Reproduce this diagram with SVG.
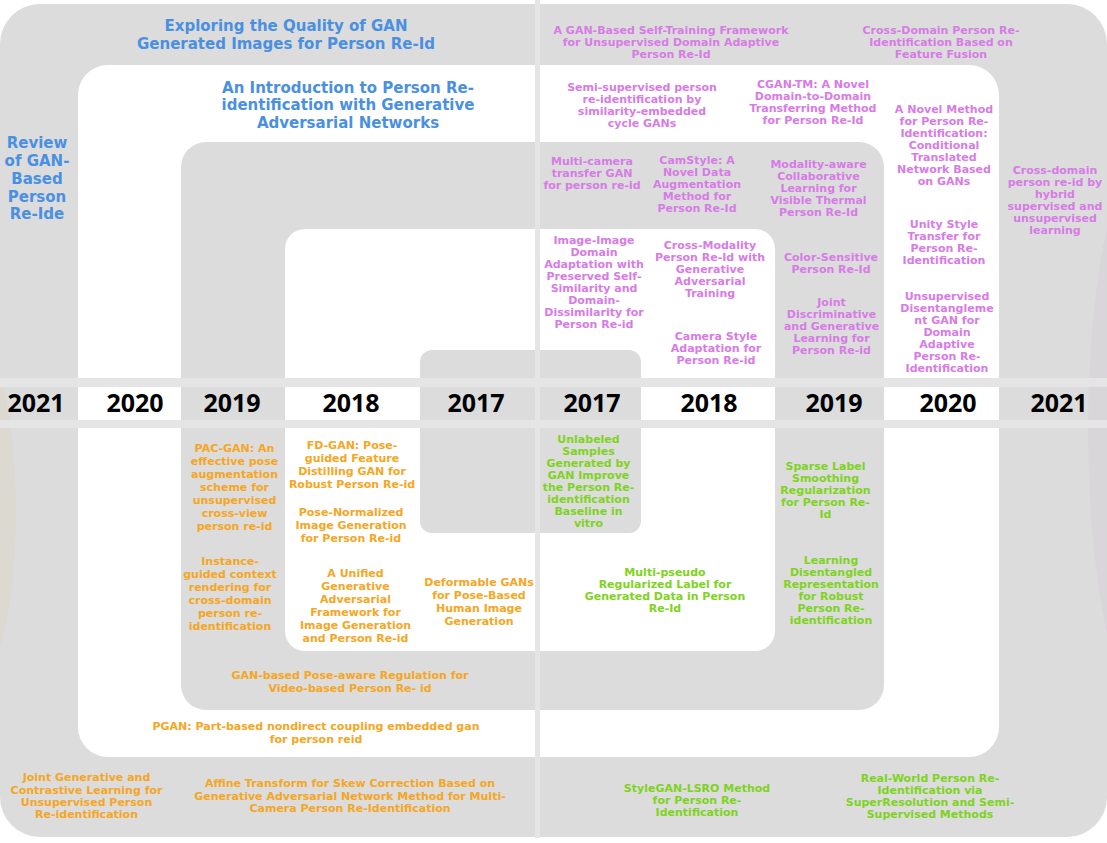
<svg xmlns="http://www.w3.org/2000/svg" width="1107" height="843" viewBox="0 0 1107 843">
  <style>
    .t { font-family: "DejaVu Sans", "Liberation Sans", sans-serif; font-weight: 700; text-anchor: middle; }
    .blue { fill: #4a90e2; font-size: 15px; }
    .pur { fill: #d77be6; font-size: 11px; }
    .org { fill: #f5a623; font-size: 11px; }
    .grn { fill: #7ed321; font-size: 11px; }
    .yr { font-family: "Open Sans", "Liberation Sans", sans-serif; fill: #000000; font-size: 25px; }
    .grey { fill: #dcdcdc; }
    .white { fill: #ffffff; }
    .band { fill: #e5e5e5; }
  </style>

  <!-- page background -->
  <rect x="0" y="0" width="1107" height="843" fill="#ffffff"/>

  <!-- nested rings, outermost (2021) to innermost (2017) -->
  <g id="rings">
    <rect class="grey" x="0" y="4" width="1107" height="833" rx="40"/>
    <ellipse cx="-30" cy="512" rx="46" ry="180" fill="#dcd9d1"/>
    <ellipse cx="1160" cy="430" rx="72" ry="300" fill="#d9d6d9"/>
    <rect class="white" x="78" y="65" width="921" height="692" rx="30"/>
    <rect class="grey" x="181" y="142" width="703" height="568" rx="25"/>
    <rect class="white" x="285" y="229" width="490" height="422" rx="20"/>
    <rect class="grey" x="420" y="350" width="221" height="183" rx="12"/>
  </g>

  <!-- timeline strip and centre divider -->
  <g id="timeline">
    <rect class="band" x="0" y="378" width="1107" height="9"/>
    <rect class="band" x="0" y="420" width="1107" height="8"/>
    <rect class="band" x="535" y="0" width="5" height="838"/>
    <text class="t yr" x="36" y="412">2021</text>
    <text class="t yr" x="135" y="412">2020</text>
    <text class="t yr" x="232" y="412">2019</text>
    <text class="t yr" x="351" y="412">2018</text>
    <text class="t yr" x="476" y="412">2017</text>
    <text class="t yr" x="592" y="412">2017</text>
    <text class="t yr" x="709" y="412">2018</text>
    <text class="t yr" x="834" y="412">2019</text>
    <text class="t yr" x="948" y="412">2020</text>
    <text class="t yr" x="1059" y="412">2021</text>
  </g>

  <!-- review papers -->
  <g id="n-exploring-quality"><text class="t blue"><tspan x="286" y="31">Exploring the Quality of GAN</tspan><tspan x="286" y="49">Generated Images for Person Re-Id</tspan></text></g>
  <g id="n-introduction"><text class="t blue"><tspan x="348" y="92.5">An Introduction to Person Re-</tspan><tspan x="348" y="110">identification with Generative</tspan><tspan x="348" y="127.5">Adversarial Networks</tspan></text></g>
  <g id="n-review"><text class="t blue"><tspan x="37" y="147.5">Review</tspan><tspan x="37" y="165.5">of GAN-</tspan><tspan x="37" y="183.5">Based</tspan><tspan x="37" y="201.5">Person</tspan><tspan x="37" y="219">Re-Ide</tspan></text></g>

  <!-- domain adaptation / style transfer papers -->
  <g id="n-self-training"><text class="t pur"><tspan x="671" y="34">A GAN-Based Self-Training Framework</tspan><tspan x="671" y="46">for Unsupervised Domain Adaptive</tspan><tspan x="671" y="58">Person Re-Id</tspan></text></g>
  <g id="n-feature-fusion"><text class="t pur"><tspan x="941" y="34">Cross-Domain Person Re-</tspan><tspan x="941" y="46">Identification Based on</tspan><tspan x="941" y="58">Feature Fusion</tspan></text></g>
  <g id="n-semi-supervised"><text class="t pur"><tspan x="642" y="91">Semi-supervised person</tspan><tspan x="642" y="103">re-identification by</tspan><tspan x="642" y="115">similarity-embedded</tspan><tspan x="642" y="127">cycle GANs</tspan></text></g>
  <g id="n-cgan-tm"><text class="t pur"><tspan x="813" y="88">CGAN-TM: A Novel</tspan><tspan x="813" y="100">Domain-to-Domain</tspan><tspan x="813" y="112">Transferring Method</tspan><tspan x="813" y="124">for Person Re-Id</tspan></text></g>
  <g id="n-novel-method"><text class="t pur"><tspan x="944" y="113">A Novel Method</tspan><tspan x="944" y="125">for Person Re-</tspan><tspan x="944" y="137">Identification:</tspan><tspan x="944" y="149">Conditional</tspan><tspan x="944" y="161">Translated</tspan><tspan x="944" y="173">Network Based</tspan><tspan x="944" y="185">on GANs</tspan></text></g>
  <g id="n-multi-camera"><text class="t pur"><tspan x="592" y="165">Multi-camera</tspan><tspan x="592" y="177">transfer GAN</tspan><tspan x="592" y="189">for person re-id</tspan></text></g>
  <g id="n-camstyle"><text class="t pur"><tspan x="697" y="164">CamStyle: A</tspan><tspan x="697" y="176">Novel Data</tspan><tspan x="697" y="188">Augmentation</tspan><tspan x="697" y="200">Method for</tspan><tspan x="697" y="212">Person Re-Id</tspan></text></g>
  <g id="n-modality-aware"><text class="t pur"><tspan x="818.5" y="168">Modality-aware</tspan><tspan x="818.5" y="180">Collaborative</tspan><tspan x="818.5" y="192">Learning for</tspan><tspan x="818.5" y="204">Visible Thermal</tspan><tspan x="818.5" y="216">Person Re-Id</tspan></text></g>
  <g id="n-hybrid"><text class="t pur"><tspan x="1055" y="174">Cross-domain</tspan><tspan x="1055" y="186">person re-id by</tspan><tspan x="1055" y="198">hybrid</tspan><tspan x="1055" y="210">supervised and</tspan><tspan x="1055" y="222">unsupervised</tspan><tspan x="1055" y="234">learning</tspan></text></g>
  <g id="n-unity-style"><text class="t pur"><tspan x="944" y="228">Unity Style</tspan><tspan x="944" y="240">Transfer for</tspan><tspan x="944" y="252">Person Re-</tspan><tspan x="944" y="264">Identification</tspan></text></g>
  <g id="n-image-image"><text class="t pur"><tspan x="594" y="244">Image-Image</tspan><tspan x="594" y="256">Domain</tspan><tspan x="594" y="268">Adaptation with</tspan><tspan x="594" y="280">Preserved Self-</tspan><tspan x="594" y="292">Similarity and</tspan><tspan x="594" y="304">Domain-</tspan><tspan x="594" y="316">Dissimilarity for</tspan><tspan x="594" y="328">Person Re-id</tspan></text></g>
  <g id="n-cross-modality"><text class="t pur"><tspan x="710" y="249">Cross-Modality</tspan><tspan x="710" y="261">Person Re-Id with</tspan><tspan x="710" y="273">Generative</tspan><tspan x="710" y="285">Adversarial</tspan><tspan x="710" y="297">Training</tspan></text></g>
  <g id="n-color-sensitive"><text class="t pur"><tspan x="831" y="261">Color-Sensitive</tspan><tspan x="831" y="273">Person Re-Id</tspan></text></g>
  <g id="n-joint-discriminative"><text class="t pur"><tspan x="831.5" y="306">Joint</tspan><tspan x="831.5" y="318">Discriminative</tspan><tspan x="831.5" y="330">and Generative</tspan><tspan x="831.5" y="342">Learning for</tspan><tspan x="831.5" y="354">Person Re-id</tspan></text></g>
  <g id="n-disentanglement"><text class="t pur"><tspan x="947" y="300">Unsupervised</tspan><tspan x="947" y="312">Disentangleme</tspan><tspan x="947" y="324">nt GAN for</tspan><tspan x="947" y="336">Domain</tspan><tspan x="947" y="348">Adaptive</tspan><tspan x="947" y="360">Person Re-</tspan><tspan x="947" y="372">Identification</tspan></text></g>
  <g id="n-camera-style"><text class="t pur"><tspan x="716" y="340">Camera Style</tspan><tspan x="716" y="352">Adaptation for</tspan><tspan x="716" y="364">Person Re-id</tspan></text></g>

  <!-- pose / generation papers -->
  <g id="n-pac-gan"><text class="t org"><tspan x="234.5" y="452">PAC-GAN: An</tspan><tspan x="234.5" y="465">effective pose</tspan><tspan x="234.5" y="478">augmentation</tspan><tspan x="234.5" y="491">scheme for</tspan><tspan x="234.5" y="504">unsupervised</tspan><tspan x="234.5" y="517">cross-view</tspan><tspan x="234.5" y="530">person re-id</tspan></text></g>
  <g id="n-fd-gan"><text class="t org"><tspan x="352" y="449">FD-GAN: Pose-</tspan><tspan x="352" y="462">guided Feature</tspan><tspan x="352" y="475">Distilling GAN for</tspan><tspan x="352" y="488">Robust Person Re-id</tspan></text></g>
  <g id="n-pose-normalized"><text class="t org"><tspan x="351" y="516">Pose-Normalized</tspan><tspan x="351" y="529">Image Generation</tspan><tspan x="351" y="542">for Person Re-id</tspan></text></g>
  <g id="n-instance-guided"><text class="t org"><tspan x="230" y="565">Instance-</tspan><tspan x="230" y="578">guided context</tspan><tspan x="230" y="591">rendering for</tspan><tspan x="230" y="604">cross-domain</tspan><tspan x="230" y="617">person re-</tspan><tspan x="230" y="630">identification</tspan></text></g>
  <g id="n-unified"><text class="t org"><tspan x="355.5" y="577">A Unified</tspan><tspan x="355.5" y="590">Generative</tspan><tspan x="355.5" y="603">Adversarial</tspan><tspan x="355.5" y="616">Framework for</tspan><tspan x="355.5" y="629">Image Generation</tspan><tspan x="355.5" y="642">and Person Re-id</tspan></text></g>
  <g id="n-deformable"><text class="t org"><tspan x="479" y="586">Deformable GANs</tspan><tspan x="479" y="599">for Pose-Based</tspan><tspan x="479" y="612">Human Image</tspan><tspan x="479" y="625">Generation</tspan></text></g>
  <g id="n-pose-aware"><text class="t org"><tspan x="350" y="679">GAN-based Pose-aware Regulation for</tspan><tspan x="350" y="692">Video-based Person Re- id</tspan></text></g>
  <g id="n-pgan"><text class="t org"><tspan x="316" y="730">PGAN: Part-based nondirect coupling embedded gan</tspan><tspan x="316" y="743">for person reid</tspan></text></g>
  <g id="n-joint-contrastive"><text class="t org"><tspan x="86.5" y="781">Joint Generative and</tspan><tspan x="86.5" y="794">Contrastive Learning for</tspan><tspan x="86.5" y="806">Unsupervised Person</tspan><tspan x="86.5" y="818">Re-identification</tspan></text></g>
  <g id="n-affine"><text class="t org"><tspan x="350" y="787">Affine Transform for Skew Correction Based on</tspan><tspan x="350" y="800">Generative Adversarial Network Method for Multi-</tspan><tspan x="350" y="812">Camera Person Re-Identification</tspan></text></g>

  <!-- label / representation papers -->
  <g id="n-unlabeled"><text class="t grn"><tspan x="588.5" y="443">Unlabeled</tspan><tspan x="588.5" y="455">Samples</tspan><tspan x="588.5" y="467">Generated by</tspan><tspan x="588.5" y="479">GAN Improve</tspan><tspan x="588.5" y="491">the Person Re-</tspan><tspan x="588.5" y="503">identification</tspan><tspan x="588.5" y="515">Baseline in</tspan><tspan x="588.5" y="527">vitro</tspan></text></g>
  <g id="n-multi-pseudo"><text class="t grn"><tspan x="665" y="576">Multi-pseudo</tspan><tspan x="665" y="588">Regularized Label for</tspan><tspan x="665" y="600">Generated Data in Person</tspan><tspan x="665" y="612">Re-Id</tspan></text></g>
  <g id="n-sparse-label"><text class="t grn"><tspan x="825.5" y="470">Sparse Label</tspan><tspan x="825.5" y="482">Smoothing</tspan><tspan x="825.5" y="494">Regularization</tspan><tspan x="825.5" y="506">for Person Re-</tspan><tspan x="825.5" y="518">Id</tspan></text></g>
  <g id="n-disentangled-rep"><text class="t grn"><tspan x="831" y="564">Learning</tspan><tspan x="831" y="576">Disentangled</tspan><tspan x="831" y="588">Representation</tspan><tspan x="831" y="600">for Robust</tspan><tspan x="831" y="612">Person Re-</tspan><tspan x="831" y="624">identification</tspan></text></g>
  <g id="n-stylegan-lsro"><text class="t grn"><tspan x="697" y="792">StyleGAN-LSRO Method</tspan><tspan x="697" y="804">for Person Re-</tspan><tspan x="697" y="816">Identification</tspan></text></g>
  <g id="n-real-world"><text class="t grn"><tspan x="930" y="782">Real-World Person Re-</tspan><tspan x="930" y="794">Identification via</tspan><tspan x="930" y="806">SuperResolution and Semi-</tspan><tspan x="930" y="818">Supervised Methods</tspan></text></g>
</svg>
